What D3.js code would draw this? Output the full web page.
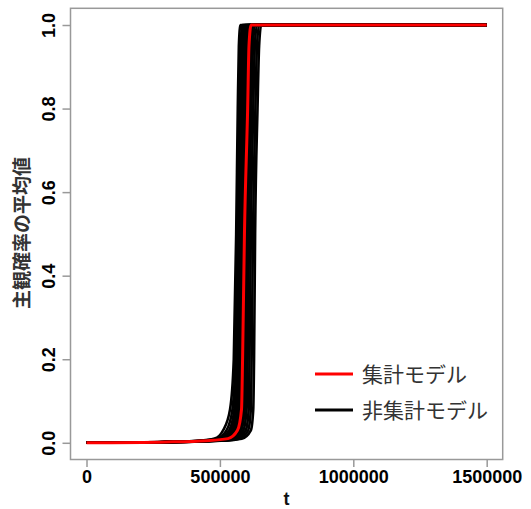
<!DOCTYPE html>
<html><head><meta charset="utf-8">
<script src="https://cdn.jsdelivr.net/npm/d3@7"></script>
<style>body{margin:0;background:#fff}svg{display:block}</style>
</head><body>
<svg id="c" width="531" height="509"></svg>
<script>
// Probability levels shared by all curves
const levels = [0, 0.002, 0.005, 0.01, 0.03, 0.08, 0.2, 0.5, 0.8, 0.95, 1, 1];
// Aggregate model (red): t at each level
const aggregateT = [0, 300000, 450000, 530000, 566000, 581000, 585000, 592000, 604000, 609000, 617000, 1500000];
// Disaggregate model runs (black): t at each level
const run01 = [0, 280000, 420000, 480000, 512000, 538000, 552000, 561000, 567000, 571000, 577000, 1500000];
const run02 = [0, 290000, 430000, 490000, 525000, 547000, 558000, 565000, 572000, 577000, 584000, 1500000];
const run03 = [0, 295000, 440000, 500000, 535000, 554000, 563000, 569000, 577000, 582000, 589000, 1500000];
const run04 = [0, 300000, 445000, 507000, 542000, 560000, 567000, 573000, 582000, 587000, 594000, 1500000];
const run05 = [0, 300000, 450000, 512000, 548000, 565000, 571000, 577000, 586000, 591000, 598000, 1500000];
const run06 = [0, 305000, 455000, 518000, 553000, 569000, 575000, 581000, 590000, 596000, 603000, 1500000];
const run07 = [0, 305000, 458000, 522000, 558000, 573000, 579000, 585000, 594000, 600000, 607000, 1500000];
const run08 = [0, 310000, 462000, 527000, 563000, 577000, 583000, 589000, 598000, 604000, 611000, 1500000];
const run09 = [0, 310000, 466000, 532000, 568000, 581000, 587000, 593000, 602000, 608000, 616000, 1500000];
const run10 = [0, 315000, 470000, 538000, 574000, 587000, 592000, 598000, 607000, 613000, 621000, 1500000];
const run11 = [0, 320000, 476000, 545000, 580000, 593000, 598000, 603000, 612000, 618000, 626000, 1500000];
const run12 = [0, 325000, 483000, 553000, 588000, 600000, 604000, 609000, 618000, 624000, 632000, 1500000];
const run13 = [0, 330000, 490000, 562000, 597000, 608000, 611000, 616000, 625000, 631000, 639000, 1500000];
const run14 = [0, 335000, 498000, 572000, 606000, 616000, 619000, 624000, 633000, 639000, 647000, 1500000];
const run15 = [0, 340000, 505000, 582000, 616000, 625000, 628000, 632000, 641000, 647000, 655000, 1500000];
const disaggregateRuns = [run01, run02, run03, run04, run05, run06, run07, run08, run09, run10, run11, run12, run13, run14, run15];

const xTicks = [0, 500000, 1000000, 1500000];
const yTicks = [0, 0.2, 0.4, 0.6, 0.8, 1.0];
const legendLabels = ["集計モデル", "非集計モデル"];
const legendColors = ["#ff0000", "#000000"];
const xTitle = "t";
const yTitle = "主観確率の平均値";

const svg = d3.select("#c");
const L = 70.5, R = 502.7, T = 8.3, B = 459.5;
const x = d3.scaleLinear().domain([-60000, 1560000]).range([L, R]);
const y = d3.scaleLinear().domain([-0.04, 1.04]).range([B, T]);

const line = d3.line().x(d => x(d[0])).y(d => y(d[1])).curve(d3.curveMonotoneX);
const toPts = ts => ts.map((t, i) => [t, levels[i]]);

const plot = svg.append("g");
disaggregateRuns.forEach(r => {
  plot.append("path").attr("d", line(toPts(r))).attr("fill", "none")
    .attr("stroke", "#000").attr("stroke-width", 2.6);
});
plot.append("path").attr("d", line(toPts(aggregateT))).attr("fill", "none")
  .attr("stroke", "#ff0000").attr("stroke-width", 3);

// box
svg.append("rect").attr("x", L).attr("y", T).attr("width", R - L).attr("height", B - T)
  .attr("fill", "none").attr("stroke", "#999").attr("stroke-width", 1.5);

// x axis
const xa = svg.append("g").attr("transform", `translate(0,${B})`)
  .call(d3.axisBottom(x).tickValues(xTicks).tickFormat(d3.format("d")).tickSize(7.5).tickPadding(3));
xa.select(".domain").remove();
xa.selectAll("line").attr("stroke", "#999").attr("stroke-width", 1.5);
xa.selectAll("text").attr("font-family", "Liberation Sans, Arial, sans-serif").attr("font-weight", "bold")
  .attr("font-size", 18).attr("fill", "#000");

// y axis
const ya = svg.append("g").attr("transform", `translate(${L},0)`)
  .call(d3.axisLeft(y).tickValues(yTicks).tickFormat(d3.format(".1f")).tickSize(8));
ya.select(".domain").remove();
ya.selectAll("line").attr("stroke", "#999").attr("stroke-width", 1.5);
ya.selectAll("text").attr("transform", "rotate(-90)").attr("x", 0).attr("y", -22)
  .attr("dy", "0.35em").attr("text-anchor", "middle")
  .attr("font-family", "Liberation Sans, Arial, sans-serif").attr("font-weight", "bold")
  .attr("font-size", 18).attr("fill", "#000");

// titles
svg.append("text").attr("x", x(750000)).attr("y", 505).attr("text-anchor", "middle")
  .attr("font-family", "Liberation Sans, Arial, sans-serif").attr("font-weight", "bold")
  .attr("font-size", 18).attr("fill", "#111").text(xTitle);
svg.append("text").attr("transform", "translate(22,233) rotate(-90)").attr("text-anchor", "middle")
  .attr("dy", "0.35em").attr("font-family", "Noto Sans CJK JP, sans-serif").attr("font-weight", "bold")
  .attr("font-size", 19).attr("fill", "#333").text(yTitle);

// legend
const lg = svg.append("g");
legendLabels.forEach((lab, i) => {
  const yy = 374 + i * 36;
  lg.append("line").attr("x1", 315).attr("x2", 353).attr("y1", yy).attr("y2", yy)
    .attr("stroke", legendColors[i]).attr("stroke-width", 3);
  lg.append("text").attr("x", 362).attr("y", yy).attr("dy", "0.36em")
    .attr("font-family", "Noto Sans CJK JP, sans-serif").attr("font-size", 21)
    .attr("fill", "#333").text(lab);
});
</script>
</body></html>
